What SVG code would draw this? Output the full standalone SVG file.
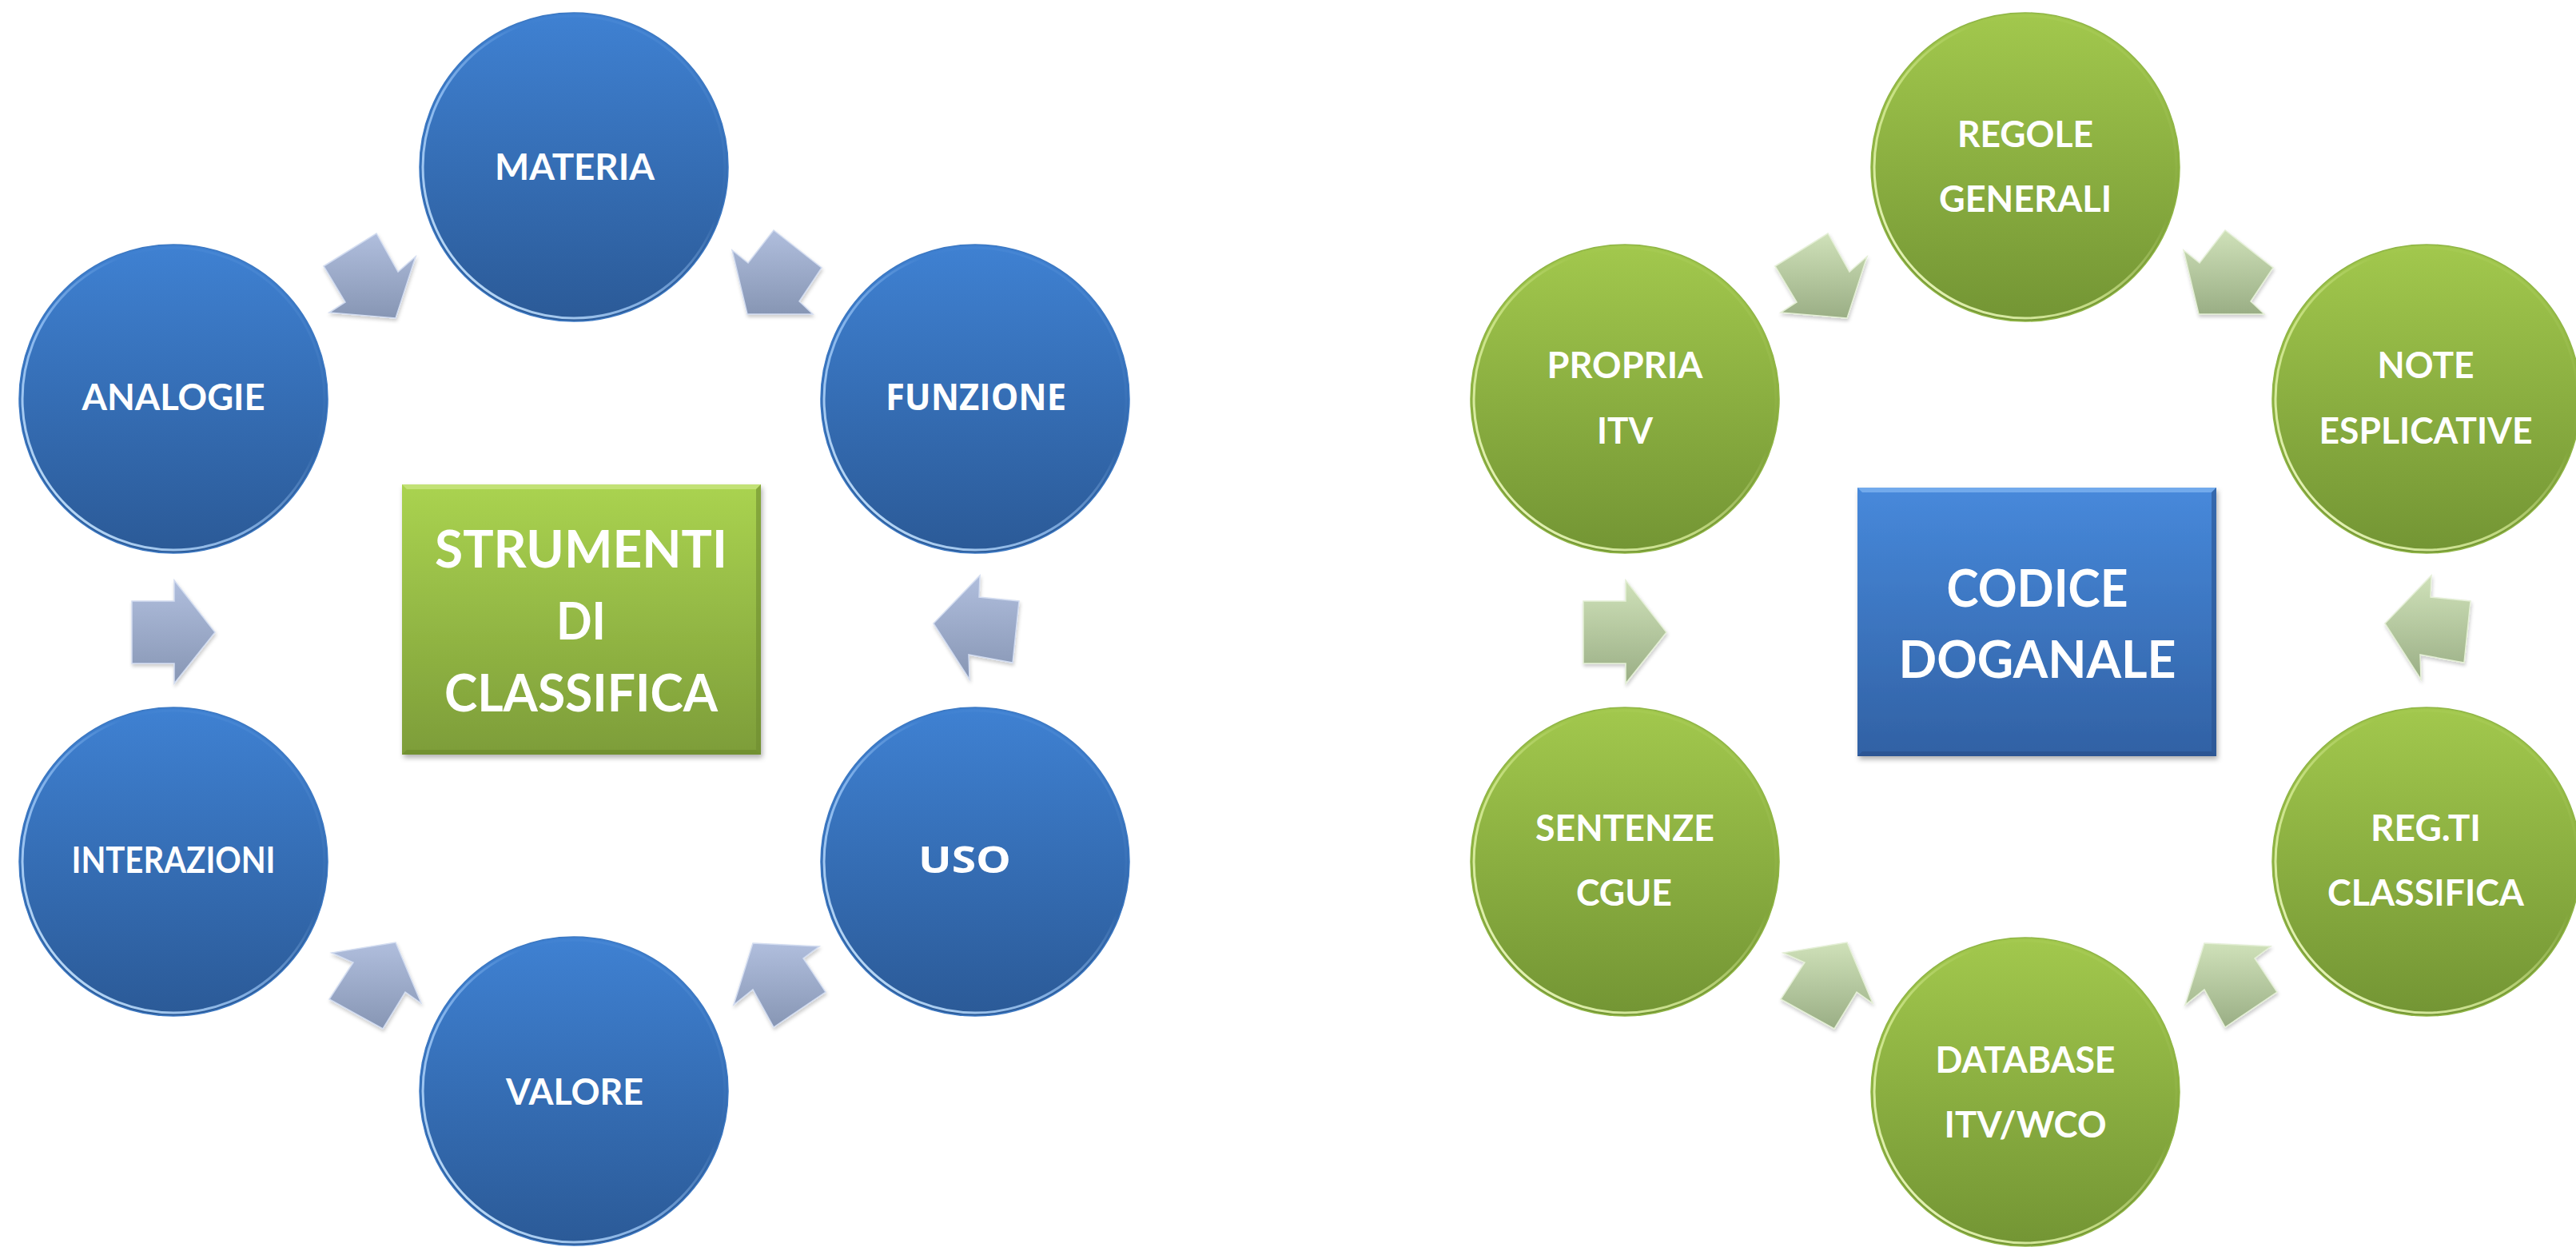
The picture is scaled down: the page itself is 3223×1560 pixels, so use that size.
<svg xmlns="http://www.w3.org/2000/svg" width="3223" height="1560" viewBox="0 0 3223 1560">
<defs>
<linearGradient id="gBlueC" x1="0" y1="0" x2="0" y2="1"><stop offset="0" stop-color="#3F81D2"/><stop offset="1" stop-color="#2B5A97"/></linearGradient>
<linearGradient id="gGreenC" x1="0" y1="0" x2="0" y2="1"><stop offset="0" stop-color="#A2C84D"/><stop offset="1" stop-color="#739534"/></linearGradient>
<linearGradient id="gGreenR" x1="0" y1="0" x2="0" y2="1"><stop offset="0" stop-color="#AAD350"/><stop offset="1" stop-color="#7D9D39"/></linearGradient>
<linearGradient id="gBlueR" x1="0" y1="0" x2="0" y2="1"><stop offset="0" stop-color="#4789DB"/><stop offset="1" stop-color="#3161A4"/></linearGradient>
<linearGradient id="gBlueA" x1="0" y1="0" x2="0" y2="1"><stop offset="0" stop-color="#B0BEDD"/><stop offset="1" stop-color="#8796B4"/></linearGradient>
<linearGradient id="gGreenA" x1="0" y1="0" x2="0" y2="1"><stop offset="0" stop-color="#CFE1B9"/><stop offset="1" stop-color="#9AAE85"/></linearGradient>
<linearGradient id="rimBlue" x1="0" y1="1" x2="1" y2="0"><stop offset="0" stop-color="#D6EEFF" stop-opacity="1"/><stop offset="0.4" stop-color="#A6D0FF" stop-opacity="0.7"/><stop offset="0.65" stop-color="#A6D0FF" stop-opacity="0"/><stop offset="1" stop-color="#A6D0FF" stop-opacity="0.15"/></linearGradient>
<linearGradient id="rimGreen" x1="0" y1="1" x2="1" y2="0"><stop offset="0" stop-color="#F5FFD0" stop-opacity="1"/><stop offset="0.4" stop-color="#E0F4A0" stop-opacity="0.7"/><stop offset="0.65" stop-color="#E0F4A0" stop-opacity="0"/><stop offset="1" stop-color="#E0F4A0" stop-opacity="0.15"/></linearGradient>
<filter id="sh" x="-10%" y="-10%" width="130%" height="130%"><feDropShadow dx="2" dy="4" stdDeviation="3" flood-color="#000" flood-opacity="0.3"/></filter>
<filter id="shA" x="-10%" y="-10%" width="130%" height="130%"><feDropShadow dx="1" dy="3" stdDeviation="2" flood-color="#000" flood-opacity="0.2"/></filter>
</defs>
<style>
.cb{fill:url(#gBlueC);stroke:#3C78C2;stroke-width:1.5}
.cg{fill:url(#gGreenC);stroke:#8FB545;stroke-width:1.5}
.rb{fill:none;stroke:url(#rimBlue);stroke-width:3}
.rg{fill:none;stroke:url(#rimGreen);stroke-width:3}
.ab{fill:url(#gBlueA);stroke:#D2DCF0;stroke-width:1.5;stroke-linejoin:miter;filter:url(#shA)}
.ag{fill:url(#gGreenA);stroke:#E4EFD6;stroke-width:1.5;stroke-linejoin:miter;filter:url(#shA)}
.t{font-family:Lato,"Liberation Sans",sans-serif;font-weight:bold;fill:#fff;text-anchor:middle;font-size:46px}
.tw{font-family:"Open Sans","Liberation Sans",sans-serif;font-weight:bold;fill:#fff;text-anchor:middle;font-size:46px}
.tb{font-family:Lato,"Liberation Sans",sans-serif;font-weight:bold;fill:#fff;text-anchor:middle;font-size:65px}
</style>
<rect width="3223" height="1560" fill="#fff"/>

<g id="connectors">
<polygon class="ab" points="405,333 471,292 498,340 520,321 495,398 412,391 432,378"/>
<polygon class="ab" points="916,313 936,329 968,288 1028,335 1000,377 1017,393 935,393"/>
<polygon class="ab" points="165,752 218,752 218,726 269,791 218,855 218,830 165,830"/>
<polygon class="ab" points="1168,780 1226,720 1225,747 1275,752 1267,829 1212,819 1213,850"/>
<polygon class="ab" points="415,1192 442,1204 412,1250 479,1287 507,1241 527,1255 495,1179"/>
<polygon class="ab" points="942,1180 1025,1184 1005,1199 1033,1241 968,1285 942,1238 918,1257"/>
<g transform="translate(1816,0)">
<polygon class="ag" points="405,333 471,292 498,340 520,321 495,398 412,391 432,378"/>
<polygon class="ag" points="916,313 936,329 968,288 1028,335 1000,377 1017,393 935,393"/>
<polygon class="ag" points="165,752 218,752 218,726 269,791 218,855 218,830 165,830"/>
<polygon class="ag" points="1168,780 1226,720 1225,747 1275,752 1267,829 1212,819 1213,850"/>
<polygon class="ag" points="415,1192 442,1204 412,1250 479,1287 507,1241 527,1255 495,1179"/>
<polygon class="ag" points="942,1180 1025,1184 1005,1199 1033,1241 968,1285 942,1238 918,1257"/>
</g>
</g>

<g id="strumenti">
<rect x="503" y="606" width="449" height="338" fill="url(#gGreenR)" filter="url(#sh)"/>
<path d="M503,606 H952 L946,612 H509 Z" fill="#C8E57F" opacity="0.8"/>
<path d="M952,606 V944 L946,938 V612 Z" fill="#6E8C30" opacity="0.6"/>
<path d="M503,944 H952 L946,938 H509 Z" fill="#6A882D" opacity="0.6"/>
<text class="tb" x="727" y="710" textLength="366" lengthAdjust="spacingAndGlyphs">STRUMENTI</text>
<text class="tb" x="727" y="800" textLength="62" lengthAdjust="spacingAndGlyphs">DI</text>
<text class="tb" x="727" y="890" textLength="342" lengthAdjust="spacingAndGlyphs">CLASSIFICA</text>
</g>
<g id="materia"><circle class="cb" cx="718" cy="209" r="193"/><circle class="rb" cx="718" cy="209" r="189"/><text class="t" x="719" y="225" textLength="200" lengthAdjust="spacingAndGlyphs">MATERIA</text></g>
<g id="analogie"><circle class="cb" cx="217" cy="499" r="193"/><circle class="rb" cx="217" cy="499" r="189"/><text class="t" x="217" y="513" textLength="229" lengthAdjust="spacingAndGlyphs">ANALOGIE</text></g>
<g id="funzione"><circle class="cb" cx="1220" cy="499" r="193"/><circle class="rb" cx="1220" cy="499" r="189"/><text class="tw" x="1221" y="513" textLength="226" lengthAdjust="spacingAndGlyphs">FUNZIONE</text></g>
<g id="interazioni"><circle class="cb" cx="217" cy="1078" r="193"/><circle class="rb" cx="217" cy="1078" r="189"/><text class="t" x="217" y="1092" textLength="255" lengthAdjust="spacingAndGlyphs">INTERAZIONI</text></g>
<g id="uso"><circle class="cb" cx="1220" cy="1078" r="193"/><circle class="rb" cx="1220" cy="1078" r="189"/><text class="tw" x="1207" y="1092" textLength="116" lengthAdjust="spacingAndGlyphs">USO</text></g>
<g id="valore"><circle class="cb" cx="718" cy="1365" r="193"/><circle class="rb" cx="718" cy="1365" r="189"/><text class="t" x="719" y="1382" textLength="172" lengthAdjust="spacingAndGlyphs">VALORE</text></g>

<g id="codice">
<rect x="2324" y="610" width="449" height="336" fill="url(#gBlueR)" filter="url(#sh)"/>
<path d="M2324,610 H2773 L2767,616 H2330 Z" fill="#7DB3F0" opacity="0.8"/>
<path d="M2773,610 V946 L2767,940 V616 Z" fill="#2A5490" opacity="0.6"/>
<path d="M2324,946 H2773 L2767,940 H2330 Z" fill="#284F88" opacity="0.6"/>
<text class="tb" x="2549" y="759" textLength="227" lengthAdjust="spacingAndGlyphs">CODICE</text>
<text class="tb" x="2549" y="848" textLength="347" lengthAdjust="spacingAndGlyphs">DOGANALE</text>
</g>
<g id="regole"><circle class="cg" cx="2534" cy="209" r="193"/><circle class="rg" cx="2534" cy="209" r="189"/><text class="t" x="2534" y="184" textLength="170" lengthAdjust="spacingAndGlyphs">REGOLE</text><text class="t" x="2534" y="265" textLength="216" lengthAdjust="spacingAndGlyphs">GENERALI</text></g>
<g id="propria"><circle class="cg" cx="2033" cy="499" r="193"/><circle class="rg" cx="2033" cy="499" r="189"/><text class="t" x="2033" y="473" textLength="195" lengthAdjust="spacingAndGlyphs">PROPRIA</text><text class="t" x="2033" y="555" textLength="70" lengthAdjust="spacingAndGlyphs">ITV</text></g>
<g id="note"><circle class="cg" cx="3036" cy="499" r="193"/><circle class="rg" cx="3036" cy="499" r="189"/><text class="t" x="3035" y="473" textLength="121" lengthAdjust="spacingAndGlyphs">NOTE</text><text class="t" x="3035" y="555" textLength="267" lengthAdjust="spacingAndGlyphs">ESPLICATIVE</text></g>
<g id="sentenze"><circle class="cg" cx="2033" cy="1078" r="193"/><circle class="rg" cx="2033" cy="1078" r="189"/><text class="t" x="2033" y="1052" textLength="224" lengthAdjust="spacingAndGlyphs">SENTENZE</text><text class="t" x="2032" y="1133" textLength="120" lengthAdjust="spacingAndGlyphs">CGUE</text></g>
<g id="regti"><circle class="cg" cx="3036" cy="1078" r="193"/><circle class="rg" cx="3036" cy="1078" r="189"/><text class="t" x="3035" y="1052" textLength="138" lengthAdjust="spacingAndGlyphs">REG.TI</text><text class="t" x="3035" y="1133" textLength="246" lengthAdjust="spacingAndGlyphs">CLASSIFICA</text></g>
<g id="database"><circle class="cg" cx="2534" cy="1366" r="193"/><circle class="rg" cx="2534" cy="1366" r="189"/><text class="t" x="2534" y="1342" textLength="225" lengthAdjust="spacingAndGlyphs">DATABASE</text><text class="t" x="2534" y="1423" textLength="203" lengthAdjust="spacingAndGlyphs">ITV/WCO</text></g>
</svg>
